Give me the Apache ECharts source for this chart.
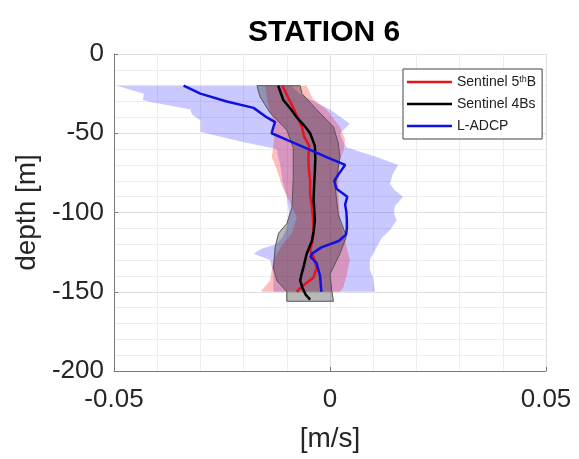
<!DOCTYPE html>
<html><head><meta charset="utf-8">
<script src="https://cdn.jsdelivr.net/npm/echarts@6/dist/echarts.min.js"></script>
<style>html,body{margin:0;padding:0;background:#fff}#c{width:579px;height:459px}</style>
</head><body><div id="c"></div>
<script>
const seriesNames = ['Sentinel 5thB', 'Sentinel 4Bs', 'L-ADCP'];
const xTickValues = [-0.05, 0, 0.05];
const xTickLabels = ['-0.05', '0', '0.05'];
const yTickValues = [0, -50, -100, -150, -200];
const yTickLabels = ['0', '-50', '-100', '-150', '-200'];

// Sentinel 5thB (red) mean profile and band
const redDepth = [-20,-27,-34,-40,-46,-52,-58,-65,-72,-80,-88,-96,-105,-113,-120,-124,-128,-135,-141,-146,-150];
const redMean  = [-0.0110,-0.0098,-0.0085,-0.0075,-0.0065,-0.0060,-0.0048,-0.0050,-0.0049,-0.0046,-0.0046,-0.0042,-0.0039,-0.0038,-0.0042,-0.0046,-0.0038,-0.0031,-0.0038,-0.0062,-0.0077];
const redLowDepth  = [-20,-30,-40,-50,-58,-65,-73,-84,-94,-103,-113,-120,-130,-143,-149,-150];
const redLow       = [-0.0150,-0.0145,-0.0135,-0.0128,-0.0131,-0.0135,-0.0123,-0.0110,-0.0092,-0.0077,-0.0088,-0.0110,-0.0131,-0.0139,-0.0158,-0.0158];
const redHighDepth = [-20,-28,-35,-46,-54,-61,-67,-84,-105,-118,-130,-139,-147,-150];
const redHigh      = [-0.0054,-0.0040,-0.0008,0.0023,0.0035,0.0031,0.0023,0.0019,0.0023,0.0035,0.0046,0.0039,0.0031,0.0023];

// Sentinel 4Bs (black) mean profile and band
const blackDepth = [-20,-29,-35,-40,-45,-50,-58,-66,-74,-84,-92,-100,-105,-112,-118,-126,-133,-139,-143,-148,-152,-155];
const blackMean  = [-0.0120,-0.0108,-0.0090,-0.0077,-0.0060,-0.0046,-0.0035,-0.0034,-0.0035,-0.0037,-0.0038,-0.0036,-0.0035,-0.0038,-0.0042,-0.0054,-0.0060,-0.0066,-0.0069,-0.0063,-0.0056,-0.0046];
const greyLowDepth  = [-20,-27,-37,-48,-59,-78,-97,-107,-113,-122,-135,-143,-150,-156];
const greyLow       = [-0.0169,-0.0162,-0.0139,-0.0100,-0.0085,-0.0085,-0.0088,-0.0100,-0.0119,-0.0127,-0.0131,-0.0123,-0.0100,-0.0100];
const greyHighDepth = [-20,-25,-35,-46,-56,-65,-84,-101,-113,-116,-126,-139,-149,-156];
const greyHigh      = [-0.0069,-0.0065,-0.0031,0.0008,0.0019,0.0023,0.0012,0.0019,0.0035,0.0037,0.0023,0.0000,0.0004,0.0008];

// L-ADCP (blue) mean profile and band
const blueDepth = [-20,-25,-30,-34,-40,-43,-46,-50,-55,-60,-65,-70,-75,-80,-85,-90,-95,-100,-105,-110,-114,-118,-122,-126,-128,-132,-140,-150];
const blueMean  = [-0.0339,-0.0300,-0.0239,-0.0177,-0.0146,-0.0127,-0.0131,-0.0135,-0.0093,-0.0050,-0.0008,0.0035,0.0022,0.0010,0.0015,0.0040,0.0035,0.0038,0.0039,0.0039,0.0037,0.0020,-0.0020,-0.0042,-0.0045,-0.0031,-0.0023,-0.0020];
const blueLowDepth  = [-20,-25,-29,-30,-35,-38,-42,-49,-55,-60,-65,-70,-80,-90,-100,-110,-116,-120,-123,-126,-130,-139,-150];
const blueLow       = [-0.0493,-0.0431,-0.0433,-0.0420,-0.0323,-0.0320,-0.0300,-0.0300,-0.0210,-0.0123,-0.0120,-0.0115,-0.0110,-0.0100,-0.0095,-0.0100,-0.0110,-0.0125,-0.0160,-0.0177,-0.0139,-0.0131,-0.0131];
const blueHighDepth = [-20,-25,-31,-35,-44,-50,-55,-59,-65,-70,-76,-82,-86,-90,-96,-100,-105,-111,-116,-122,-130,-136,-141,-150];
const blueHigh      = [-0.0090,-0.0070,-0.0030,0.0000,0.0046,0.0023,0.0030,0.0039,0.0108,0.0158,0.0145,0.0139,0.0150,0.0169,0.0150,0.0148,0.0154,0.0139,0.0120,0.0108,0.0092,0.0092,0.0100,0.0104];

const FONT = "'Liberation Sans', Arial, Helvetica, sans-serif";

function pairs(xs, ds) { return xs.map((x, i) => [x, ds[i]]); }

function band(lowD, low, highD, high, fill, stroke) {
  return {
    type: 'custom',
    coordinateSystem: 'cartesian2d',
    silent: true,
    clip: true,
    data: [[0, -100]],
    renderItem: function (params, api) {
      const pts = [];
      for (let i = 0; i < low.length; i++) pts.push(api.coord([low[i], lowD[i]]));
      for (let i = high.length - 1; i >= 0; i--) pts.push(api.coord([high[i], highD[i]]));
      return {
        type: 'polygon',
        shape: { points: pts },
        style: { fill: fill, stroke: stroke || 'none', lineWidth: stroke ? 1 : 0 }
      };
    }
  };
}

function line(name, xs, ds, color) {
  return {
    name: name, type: 'line', data: pairs(xs, ds),
    symbol: 'none', showSymbol: false, silent: true,
    lineStyle: { color: color, width: 2.5 }, itemStyle: { color: color },
    animation: false
  };
}

const chart = echarts.init(document.getElementById('c'), null, { renderer: 'canvas' });
chart.setOption({
  animation: false,
  backgroundColor: '#ffffff',
  title: {
    text: 'STATION 6', left: 248, top: 18, padding: 0,
    textStyle: { fontSize: 30, fontWeight: 'bold', color: '#000', fontFamily: FONT }
  },
  legend: {
    left: 403, top: 69, orient: 'vertical',
    icon: 'rect',
    itemWidth: 45, itemHeight: 2.5, itemGap: 8,
    padding: [6, 6, 6, 4],
    borderColor: '#444', borderWidth: 1, backgroundColor: '#fff',
    selectedMode: false,
    data: seriesNames,
    formatter: function (n) { return n === 'Sentinel 5thB' ? 'Sentinel 5{sup|th}B' : n; },
    textStyle: {
      fontSize: 14, lineHeight: 14, color: '#222', fontFamily: FONT,
      rich: { sup: { fontSize: 9, color: '#222', fontFamily: FONT, verticalAlign: 'top', padding: [0, 0, 6, 0] } }
    }
  },
  grid: { left: 114, right: 33, top: 54, bottom: 88, containLabel: false },
  xAxis: {
    type: 'value', min: -0.05, max: 0.05, interval: 0.05,
    name: '[m/s]', nameLocation: 'middle', nameGap: 54,
    nameTextStyle: { fontSize: 28, color: '#262626', fontFamily: FONT },
    axisLine: { show: true, onZero: false, lineStyle: { color: '#7a7a7a', width: 1 } },
    axisTick: { show: true, inside: true, length: 4, lineStyle: { color: '#7a7a7a' } },
    axisLabel: {
      fontSize: 26, color: '#262626', fontFamily: FONT, margin: 16,
      formatter: function (v) {
        const i = xTickValues.findIndex(t => Math.abs(t - v) < 1e-9);
        return i >= 0 ? xTickLabels[i] : '';
      }
    },
    splitLine: { show: true, lineStyle: { color: '#e0e0e0', width: 1 } },
    minorTick: { show: false, splitNumber: 5 },
    minorSplitLine: { show: true, lineStyle: { color: '#ededed', width: 1 } }
  },
  yAxis: {
    type: 'value', min: -200, max: 0, interval: 50,
    name: 'depth [m]', nameLocation: 'middle', nameGap: 71, nameRotate: 90,
    nameTextStyle: { fontSize: 28, color: '#262626', fontFamily: FONT },
    axisLine: { show: true, onZero: false, lineStyle: { color: '#7a7a7a', width: 1 } },
    axisTick: { show: true, inside: true, length: 4, lineStyle: { color: '#7a7a7a' } },
    axisLabel: {
      fontSize: 26, color: '#262626', fontFamily: FONT, margin: 10,
      formatter: function (v) {
        const i = yTickValues.findIndex(t => Math.abs(t - v) < 1e-9);
        return i >= 0 ? yTickLabels[i] : '';
      }
    },
    splitLine: { show: true, lineStyle: { color: '#e0e0e0', width: 1 } },
    minorTick: { show: false, splitNumber: 5 },
    minorSplitLine: { show: true, lineStyle: { color: '#ededed', width: 1 } }
  },
  series: [
    band(blueLowDepth, blueLow, blueHighDepth, blueHigh, 'rgba(40,40,255,0.25)'),
    band(redLowDepth, redLow, redHighDepth, redHigh, 'rgba(255,0,0,0.25)'),
    band(greyLowDepth, greyLow, greyHighDepth, greyHigh, 'rgba(20,20,20,0.3)', '#555'),
    line('Sentinel 5thB', redMean, redDepth, '#e8141c'),
    line('Sentinel 4Bs', blackMean, blackDepth, '#000000'),
    line('L-ADCP', blueMean, blueDepth, '#1010e0')
  ]
});
</script>
</body></html>
